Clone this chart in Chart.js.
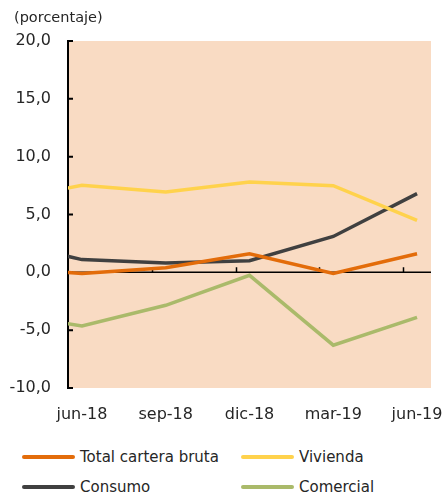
<!DOCTYPE html>
<html>
<head>
<meta charset="utf-8">
<script src="https://cdn.jsdelivr.net/npm/chart.js@4/dist/chart.umd.min.js"></script>
<style>
  html, body { margin: 0; padding: 0; background: #fff; overflow: hidden; }
  #wrap { position: relative; width: 446px; height: 495px; }
  #title { position: absolute; left: 14px; top: 8px; font-family: "DejaVu Sans", sans-serif;
           font-size: 14.5px; color: #262626; line-height: 18px; }
  #legend { position: absolute; left: 22px; top: 442px; display: grid;
            grid-template-columns: 219px 200px; grid-auto-rows: 30px;
            font-family: "DejaVu Sans", sans-serif; font-size: 15px; color: #262626; }
  .item { display: flex; align-items: center; }
  .swatch { width: 53px; height: 4px; border-radius: 2px; margin-right: 5px; }
  canvas { position: absolute; left: 0; top: 0; }
</style>
</head>
<body>
<div id="wrap">
  <canvas id="c" width="446" height="430"></canvas>
  <div id="title">(porcentaje)</div>
  <div id="legend"></div>
</div>
<script>
// ---- data ----
const periods = ['mar-18', 'jun-18', 'sep-18', 'dic-18', 'mar-19', 'jun-19'];
const monthOffsets = [-3, 0, 3, 6, 9, 12];          // months relative to jun-18
const tickLabels = ['jun-18', 'sep-18', 'dic-18', 'mar-19', 'jun-19'];
const tickMonths = [0, 3, 6, 9, 12];
const yTicks = [-10, -5, 0, 5, 10, 15, 20];

const totalCartera = [0.37, -0.10, 0.40, 1.60, -0.10, 1.60];
const vivienda     = [6.14, 7.52, 6.94, 7.80, 7.49, 4.50];
const consumo      = [2.78, 1.10, 0.80, 1.00, 3.10, 6.80];
const comercial    = [-3.44, -4.64, -2.85, -0.26, -6.30, -3.90];

const seriesNames  = ['Total cartera bruta', 'Vivienda', 'Consumo', 'Comercial'];
const seriesColors = ['#E36C0A', '#FFD24C', '#404040', '#AABA6A'];
const seriesValues = [totalCartera, vivienda, consumo, comercial];

const FONT = '"DejaVu Sans", sans-serif';
const TXT = '#262626';

const toPoints = vals => vals.map((v, i) => ({ x: monthOffsets[i], y: v }));

const frame = {
  id: 'frame',
  beforeDraw(chart) {
    const { ctx, chartArea: a } = chart;
    ctx.save();
    ctx.fillStyle = '#F9DBC3';
    ctx.fillRect(a.left, a.top, a.right - a.left, a.bottom - a.top);
    ctx.restore();
  },
  beforeDatasetsDraw(chart) {
    const { ctx, chartArea: a, scales } = chart;
    const x = scales.x, y = scales.y;
    const y0 = y.getPixelForValue(0);
    ctx.save();
    ctx.strokeStyle = '#000';
    ctx.lineWidth = 1.5;
    ctx.beginPath();
    ctx.moveTo(a.left, y0); ctx.lineTo(a.right, y0);
    tickMonths.slice(1).forEach(m => {
      const px = Math.round(x.getPixelForValue(m - 0.5)) + 0.5;
      ctx.moveTo(px, y0); ctx.lineTo(px, y0 - 5);
    });
    ctx.stroke();
    ctx.lineWidth = 2;
    ctx.beginPath();
    yTicks.forEach(v => {
      const py = y.getPixelForValue(v);
      ctx.moveTo(a.left, py); ctx.lineTo(a.left + 5, py);
    });
    ctx.stroke();
    ctx.restore();
  }
};

new Chart(document.getElementById('c'), {
  type: 'line',
  data: {
    datasets: seriesNames.map((n, i) => ({
      label: n,
      data: toPoints(seriesValues[i]),
      borderColor: seriesColors[i],
      backgroundColor: seriesColors[i],
      borderWidth: 3.5,
      pointRadius: 0,
      tension: 0,
      clip: 0
    }))
  },
  options: {
    responsive: false,
    animation: false,
    events: [],
    layout: { padding: { left: 0, right: 15, top: 41, bottom: 0 } },
    plugins: {
      legend: { display: false },
      tooltip: { enabled: false },
      title: { display: false }
    },
    scales: {
      x: {
        type: 'linear', min: -0.5, max: 12.5,
        afterBuildTicks: s => { s.ticks = tickMonths.map(v => ({ value: v })); },
        afterFit: s => { s.height = 42; s.paddingLeft = 0; s.paddingRight = 0; },
        grid: { display: false, drawTicks: false },
        border: { display: false },
        ticks: {
          color: TXT, padding: 17, maxRotation: 0, autoSkip: false,
          font: { family: FONT, size: 16 },
          callback: v => tickLabels[tickMonths.indexOf(v)]
        }
      },
      y: {
        min: -10, max: 20,
        afterBuildTicks: s => { s.ticks = yTicks.map(v => ({ value: v })); },
        afterFit: s => { s.width = 68; s.paddingTop = 0; s.paddingBottom = 0; },
        grid: { display: false, drawTicks: false },
        border: { display: true, color: '#000', width: 2 },
        ticks: {
          color: TXT, padding: 17,
          font: { family: FONT, size: 16 },
          callback: v => v.toFixed(1).replace('.', ',')
        }
      }
    }
  },
  plugins: [frame]
});

const leg = document.getElementById('legend');
seriesNames.forEach((n, i) => {
  const it = document.createElement('div');
  it.className = 'item';
  const sw = document.createElement('span');
  sw.className = 'swatch';
  sw.style.background = seriesColors[i];
  const tx = document.createElement('span');
  tx.textContent = n;
  it.appendChild(sw); it.appendChild(tx);
  leg.appendChild(it);
});
</script>
</body>
</html>
